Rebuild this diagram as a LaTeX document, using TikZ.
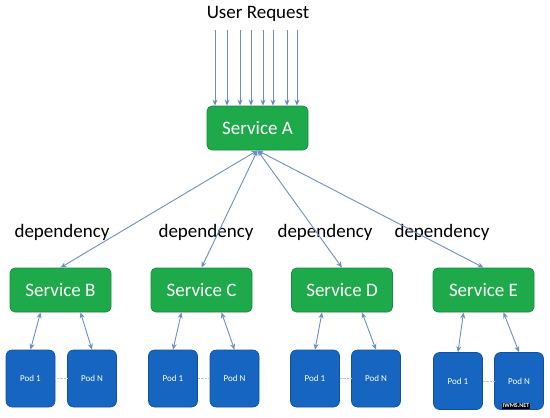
\documentclass[tikz,border=0pt]{standalone}
\usepackage{fontspec}
\setmainfont{Carlito}
\usepackage{xcolor}
\usetikzlibrary{arrows.meta}

\definecolor{svcgreen}{RGB}{30,170,74}
\definecolor{svcedge}{RGB}{24,140,60}
\definecolor{podblue}{RGB}{22,101,192}
\definecolor{podedge}{RGB}{16,80,160}
\definecolor{linkblue}{RGB}{107,143,196}

\tikzset{
  service/.style={draw=svcedge, fill=svcgreen, rounded corners=5pt, line width=0.8pt,
    minimum width=101pt, minimum height=44pt, text=white, font=\fontsize{19}{22}\selectfont},
  pod/.style={draw=podedge, fill=podblue, rounded corners=6pt, line width=0.6pt,
    minimum width=49pt, minimum height=57pt, text=white, font=\fontsize{9}{10}\selectfont},
  link/.style={linkblue, line width=0.9pt},
  tip/.style={Stealth[length=6pt,width=5pt]},
  label/.style={font=\fontsize{19}{22}\selectfont}
}

\begin{document}
\begin{tikzpicture}[x=1pt,y=-1pt]
\useasboundingbox (0,0) rectangle (550,418);

\node[label] (req) at (258,14) {User Request};
\node[service] (sA) at (257.5,128) {Service A};

% incoming requests
\foreach \i/\x in {1/215,2/227,3/240,4/251,5/263,6/273,7/287,8/297}{
  \coordinate (u\i) at (\x,30);
  \draw[link,-{Stealth[length=6pt,width=5pt]}] (u\i) -- (u\i |- sA.north);
}

% services and pods
\foreach \n/\x/\pa/\pb/\py in {B/60.5/30.5/92/378.5, C/201.5/173/234.5/378.5,
                               D/342/315/376/378.5, E/483.5/458/519/381}{
  \node[service] (s\n) at (\x,290) {Service \n};
  \node[pod] (p\n1) at (\pa,\py) {Pod 1};
  \node[pod] (p\n2) at (\pb,\py) {Pod N};
  \draw[gray!45, densely dotted] (p\n1.east) -- (p\n2.west);
  \draw[link,{Stealth[length=6pt,width=5pt]}-{Stealth[length=6pt,width=5pt]}]
    ([xshift=-20pt]s\n.south) -- (p\n1.north);
  \draw[link,{Stealth[length=6pt,width=5pt]}-{Stealth[length=6pt,width=5pt]}]
    ([xshift=20pt]s\n.south) -- (p\n2.north);
}

% dependency labels
\node[label] (dB) at (62,232) {dependency};
\node[label] (dC) at (206,232) {dependency};
\node[label] (dD) at (325,232) {dependency};
\node[label] (dE) at (442,232) {dependency};

\foreach \n in {B,C,D,E}
  \draw[link,{Stealth[length=6pt,width=5pt]}-{Stealth[length=6pt,width=5pt]}]
    (sA.south) -- (s\n.north);

\node[fill=black, text=white, inner sep=1pt, font=\fontsize{6}{7}\selectfont\bfseries] (mark) at (516,406) {IWMS.NET};
\end{tikzpicture}
\end{document}
